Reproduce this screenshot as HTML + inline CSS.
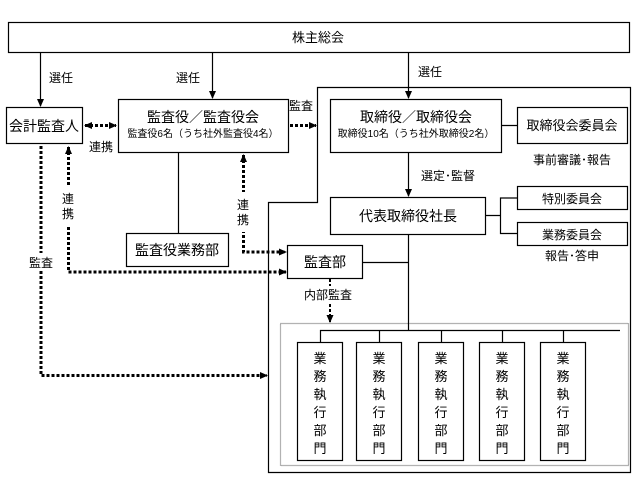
<!DOCTYPE html>
<html><head><meta charset="utf-8"><style>
html,body{margin:0;padding:0;background:#fff}
svg{display:block}
text{font-family:"Liberation Sans","Noto Sans CJK JP",sans-serif;fill:#000}
</style></head><body>
<svg width="638" height="488" viewBox="0 0 638 488" xmlns="http://www.w3.org/2000/svg">
<defs>
<marker id="a" markerWidth="8" markerHeight="8" refX="7" refY="4" orient="auto" markerUnits="userSpaceOnUse"><path d="M0,0.5 L8,4 L0,7.5z" fill="#000"/></marker>
<marker id="b" markerWidth="8" markerHeight="8" refX="1" refY="4" orient="auto" markerUnits="userSpaceOnUse"><path d="M8,0.5 L0,4 L8,7.5z" fill="#000"/></marker>
</defs>
<g fill="none" stroke="#000" stroke-width="1.2">
<rect x="8.5" y="22.5" width="621" height="30"/>
<path d="M317.5,87.5 H630.5 V472.5 H268.5 V202.5 H317.5 Z"/>
<rect x="280.5" y="323.5" width="348" height="142" stroke="#666" stroke-dasharray="1 1"/>
<rect x="6.5" y="107.5" width="76" height="36" fill="#fff"/>
<rect x="118.5" y="99.5" width="170" height="53" fill="#fff"/>
<rect x="126.5" y="233.5" width="102" height="33" fill="#fff"/>
<rect x="287.5" y="245.5" width="75" height="33" fill="#fff"/>
<rect x="330.5" y="99.5" width="171" height="53" fill="#fff"/>
<rect x="517.5" y="107.5" width="110" height="36"/>
<rect x="330.5" y="197.5" width="155" height="37" fill="#fff"/>
<rect x="517.5" y="186.5" width="110" height="23"/>
<rect x="517.5" y="222.5" width="110" height="23"/>
<rect x="297.5" y="342.5" width="45" height="118"/>
<rect x="356.5" y="342.5" width="45" height="118"/>
<rect x="418.5" y="342.5" width="45" height="118"/>
<rect x="479.5" y="342.5" width="45" height="118"/>
<rect x="540.5" y="342.5" width="45" height="118"/>
<path d="M178.5,152 V233 M501,125.5 H517 M485,215.5 H500.5 V198 H517 M500.5,215 V233.5 H517 M362,262.5 H408 M408.5,234 V330.5"/>
<path d="M320.5,342 V330.5 H620 M379.5,330 V342 M441.5,330 V342 M502.5,330 V342 M563.5,330 V342"/>
<path d="M40.5,52 V106" marker-end="url(#a)"/>
<path d="M212.5,52 V98" marker-end="url(#a)"/>
<path d="M408.5,52 V98" marker-end="url(#a)"/>
<path d="M408.5,152 V196" marker-end="url(#a)"/>
</g>
<g fill="none" stroke="#000" stroke-width="3" stroke-dasharray="3 2">
<path d="M85,125.5 H116" marker-start="url(#b)" marker-end="url(#a)"/>
<path d="M290,125.5 H316" marker-end="url(#a)"/>
<path d="M41,146 V375.5 H267" marker-end="url(#a)"/>
<path d="M68.5,147 V272 H286" marker-start="url(#b)" marker-end="url(#a)"/>
<path d="M243.5,155 V252 H286" marker-start="url(#b)" marker-end="url(#a)"/>
<path d="M330,279 V322" stroke-width="2" marker-end="url(#a)"/>
</g>
<g fill="#fff">
<rect x="57" y="186" width="22" height="40"/>
<rect x="232" y="192" width="22" height="40"/>
<rect x="22" y="253" width="38" height="18"/>
<rect x="300" y="286" width="58" height="18"/>
</g>
<g font-size="13" text-anchor="middle">
<text x="318" y="42">株主総会</text>
<text x="61" y="82" font-size="12">選任</text>
<text x="188" y="82" font-size="12">選任</text>
<text x="430" y="76" font-size="12">選任</text>
<text x="44" y="131" font-size="14">会計監査人</text>
<text x="203" y="122" font-size="14">監査役／監査役会</text>
<text x="203" y="137" font-size="10">監査役6名（うち社外監査役4名）</text>
<text x="301" y="110" font-size="12">監査</text>
<text x="101" y="151" font-size="12">連携</text>
<text x="68" y="203" font-size="12">連</text>
<text x="68" y="218" font-size="12">携</text>
<text x="243" y="209" font-size="12">連</text>
<text x="243" y="224" font-size="12">携</text>
<text x="41" y="267" font-size="12">監査</text>
<text x="177" y="255" font-size="14">監査役業務部</text>
<text x="325" y="267" font-size="14">監査部</text>
<text x="328" y="299" font-size="12">内部監査</text>
<text x="416" y="122" font-size="14">取締役／取締役会</text>
<text x="416" y="137" font-size="10">取締役10名（うち社外取締役2名）</text>
<text x="572" y="130" font-size="13">取締役会委員会</text>
<text x="572" y="164" font-size="12">事前審議･報告</text>
<text x="448" y="180" font-size="12">選定･監督</text>
<text x="408" y="221" font-size="14">代表取締役社長</text>
<text x="572" y="203" font-size="12">特別委員会</text>
<text x="572" y="239" font-size="12">業務委員会</text>
<text x="572" y="260" font-size="12">報告･答申</text>
</g>
<g font-size="13" text-anchor="middle">
<text x="320" y="363">業</text><text x="320" y="381">務</text><text x="320" y="399">執</text><text x="320" y="417">行</text><text x="320" y="435">部</text><text x="320" y="453">門</text>
<text x="379" y="363">業</text><text x="379" y="381">務</text><text x="379" y="399">執</text><text x="379" y="417">行</text><text x="379" y="435">部</text><text x="379" y="453">門</text>
<text x="441" y="363">業</text><text x="441" y="381">務</text><text x="441" y="399">執</text><text x="441" y="417">行</text><text x="441" y="435">部</text><text x="441" y="453">門</text>
<text x="502" y="363">業</text><text x="502" y="381">務</text><text x="502" y="399">執</text><text x="502" y="417">行</text><text x="502" y="435">部</text><text x="502" y="453">門</text>
<text x="563" y="363">業</text><text x="563" y="381">務</text><text x="563" y="399">執</text><text x="563" y="417">行</text><text x="563" y="435">部</text><text x="563" y="453">門</text>
</g>
</svg>
</body></html>
